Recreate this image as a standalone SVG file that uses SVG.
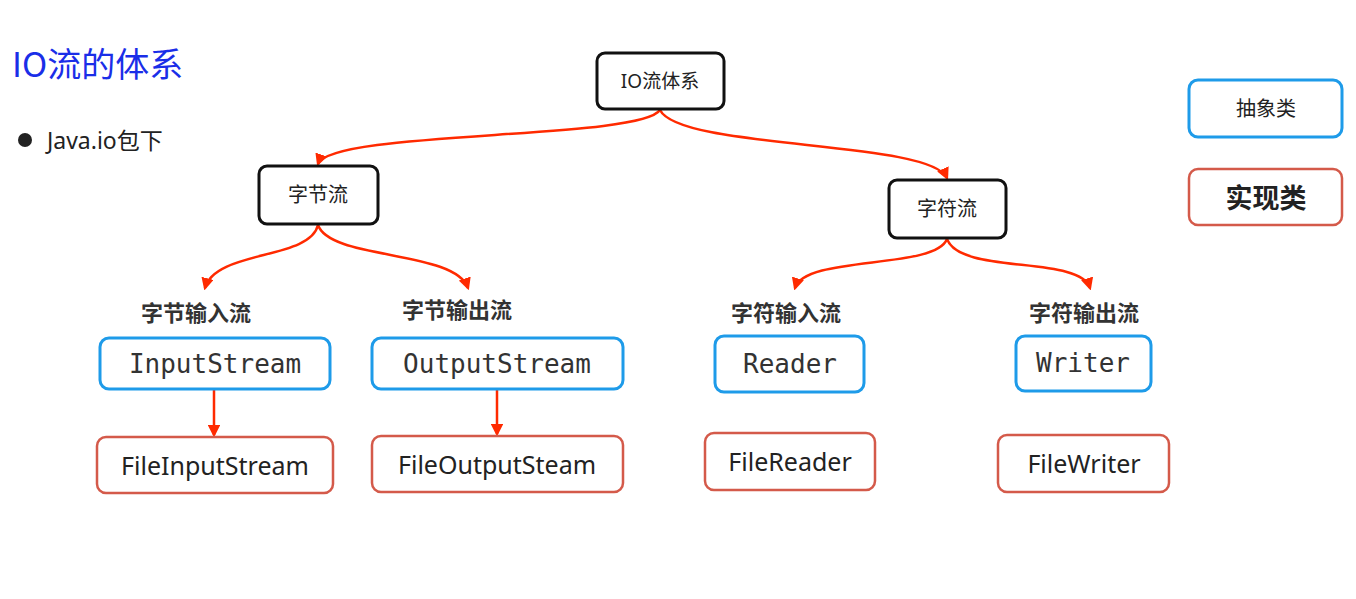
<svg xmlns="http://www.w3.org/2000/svg" width="1356" height="599" viewBox="0 0 1356 599">
<style>
.t{font-family:"Noto Sans","Noto Sans CJK SC",sans-serif;fill:#222;text-anchor:middle}
.m{font-family:"DejaVu Sans Mono","Liberation Mono",monospace;fill:#333;text-anchor:middle;font-size:26px}
.blk{fill:#fff;stroke:#111;stroke-width:3}
.abs{fill:#fff;stroke:#1e9be9;stroke-width:3}
.imp{fill:#fff;stroke:#d45a4a;stroke-width:2.5}
.c{fill:none;stroke:#ff2a00;stroke-width:2.5}
.lb{font-family:"Noto Sans CJK SC",sans-serif;font-weight:bold;font-size:22px;fill:#333;text-anchor:middle}
</style>
<defs><marker id="a" viewBox="0 0 10 10" refX="8" refY="5" markerWidth="5" markerHeight="5" orient="auto"><path d="M0,0L10,5L0,10z" fill="#ff2a00"/></marker></defs>
<rect width="1356" height="599" fill="#fff"/>
<text x="12" y="77" font-family="Noto Sans CJK SC,sans-serif" font-size="34" fill="#1a2ee8">IO流的体系</text>
<circle cx="25" cy="140" r="7" fill="#222"/>
<text x="47" y="149" font-family="Noto Sans,Noto Sans CJK SC,sans-serif" font-size="23" fill="#222">Java.io包下</text>
<g id="connectors">
<path class="c" marker-end="url(#a)" d="M660,110 C640,140 330,130 318,164"/>
<path class="c" marker-end="url(#a)" d="M660,110 C680,150 930,140 947,178"/>
<path class="c" marker-end="url(#a)" d="M318,225 C310,260 215,250 205,288"/>
<path class="c" marker-end="url(#a)" d="M318,225 C330,260 455,250 468,288"/>
<path class="c" marker-end="url(#a)" d="M947,239 C935,270 805,255 795,288"/>
<path class="c" marker-end="url(#a)" d="M947,239 C960,275 1080,255 1090,288"/>
<path class="c" marker-end="url(#a)" d="M214,390 L214,435"/>
<path class="c" marker-end="url(#a)" d="M497,390 L497,434"/>
</g>
<g id="root"><rect class="blk" x="597" y="53" width="127" height="56" rx="8"/><text class="t" x="660" y="88" font-size="19">IO流体系</text></g>
<g id="byte"><rect class="blk" x="259" y="166" width="119" height="58" rx="8"/><text class="t" x="318" y="202" font-size="20">字节流</text></g>
<g id="char"><rect class="blk" x="889" y="180" width="117" height="58" rx="8"/><text class="t" x="947" y="216" font-size="20">字符流</text></g>
<text class="lb" x="196" y="321">字节输入流</text>
<text class="lb" x="457" y="318">字节输出流</text>
<text class="lb" x="786" y="321">字符输入流</text>
<text class="lb" x="1084" y="321">字符输出流</text>
<g id="is"><rect class="abs" x="100" y="338" width="230" height="51" rx="9"/><text class="m" x="215" y="373">InputStream</text></g>
<g id="os"><rect class="abs" x="372" y="338" width="251" height="51" rx="9"/><text class="m" x="497" y="373">OutputStream</text></g>
<g id="rd"><rect class="abs" x="715" y="336" width="149" height="56" rx="9"/><text class="m" x="790" y="373">Reader</text></g>
<g id="wr"><rect class="abs" x="1016" y="336" width="135" height="55" rx="9"/><text class="m" x="1083" y="372">Writer</text></g>
<g id="fis"><rect class="imp" x="97" y="437" width="236" height="56" rx="9"/><text class="t" x="215" y="475" font-size="25">FileInputStream</text></g>
<g id="fos"><rect class="imp" x="372" y="436" width="251" height="56" rx="9"/><text class="t" x="497" y="474" font-size="25">FileOutputSteam</text></g>
<g id="fr"><rect class="imp" x="705" y="433" width="170" height="57" rx="9"/><text class="t" x="790" y="471" font-size="25">FileReader</text></g>
<g id="fw"><rect class="imp" x="998" y="435" width="171" height="57" rx="9"/><text class="t" x="1084" y="473" font-size="25">FileWriter</text></g>
<g id="legend-abs"><rect class="abs" x="1189" y="80" width="153" height="57" rx="9"/><text class="t" x="1266" y="116" font-size="20">抽象类</text></g>
<g id="legend-imp"><rect class="imp" x="1189" y="169" width="153" height="56" rx="9"/><text class="t" x="1266" y="208" font-size="27" font-weight="bold">实现类</text></g>
</svg>
